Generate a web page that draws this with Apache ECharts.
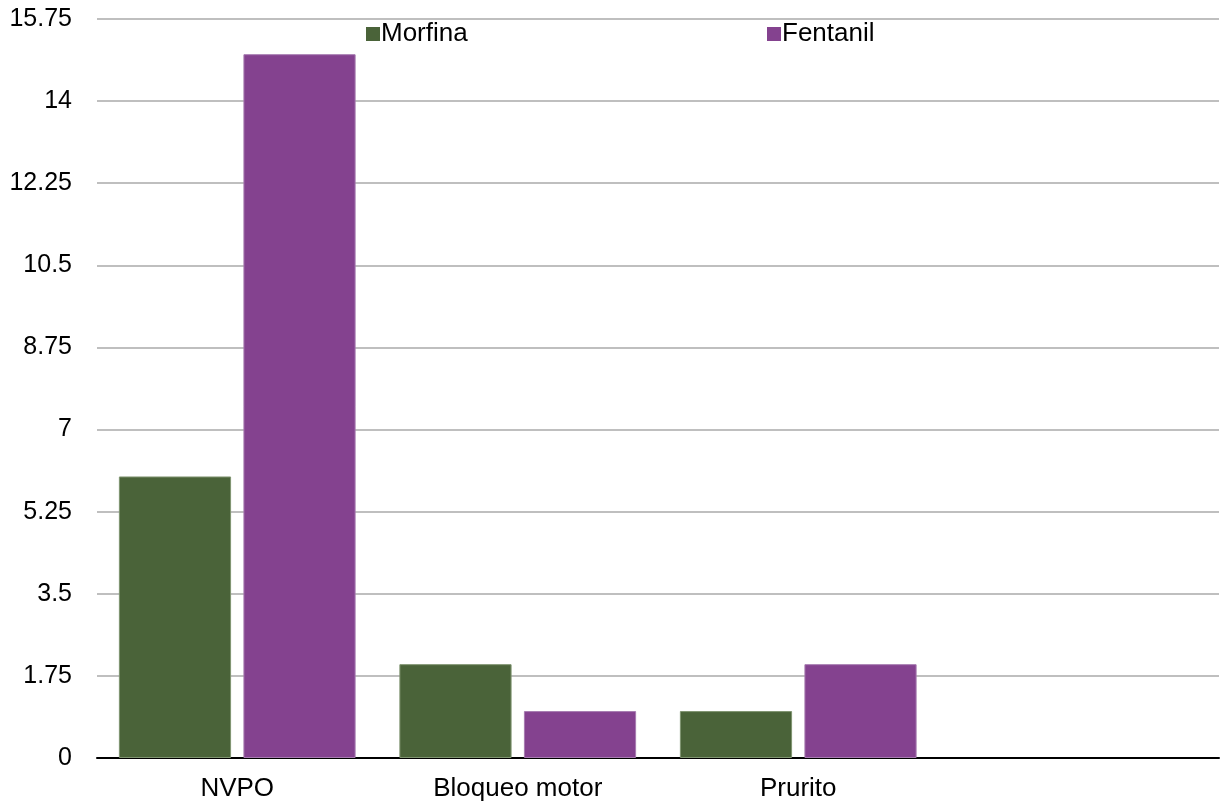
<!DOCTYPE html>
<html>
<head>
<meta charset="utf-8">
<script src="https://cdn.jsdelivr.net/npm/echarts@6/dist/echarts.min.js"></script>
<style>
  html, body { margin: 0; padding: 0; background: #fff; }
  #chart { width: 1222px; height: 805px; }
</style>
</head>
<body>
<div id="chart"></div>
<script>
// --- data ---
const categories = ['NVPO', 'Bloqueo motor', 'Prurito', ''];
const morfina = [6, 2, 1, null];
const fentanil = [15, 1, 2, null];
const yTicks = [0, 1.75, 3.5, 5.25, 7, 8.75, 10.5, 12.25, 14, 15.75];

const GREEN = '#4a6339';
const PURPLE = '#84428f';
const FONT = 'Liberation Sans, Arial, sans-serif';

const chart = echarts.init(document.getElementById('chart'));

// two legends so the items can sit at their own x positions
const legendBase = {
  top: 16,
  icon: 'rect',
  itemWidth: 14,
  itemHeight: 14,
  itemGap: 6,
  itemStyle: { borderWidth: 0 },
  textStyle: { color: '#000', fontSize: 26, fontFamily: FONT, padding: [0, 0, 0, -4] }
};

chart.setOption({
  backgroundColor: '#fff',
  animation: false,
  legend: [
    Object.assign({}, legendBase, { left: 361, data: ['Morfina'] }),
    Object.assign({}, legendBase, { left: 762, data: ['Fentanil'] })
  ],
  grid: { left: 97, right: 3, top: 19, bottom: 47, containLabel: false },
  xAxis: {
    type: 'category',
    data: categories,
    axisLine: { lineStyle: { color: '#000', width: 2 } },
    axisTick: { show: false },
    axisLabel: { color: '#000', fontSize: 26, fontFamily: FONT, margin: 18 }
  },
  yAxis: {
    type: 'value',
    min: yTicks[0],
    max: yTicks[yTicks.length - 1],
    interval: 1.75,
    axisLine: { show: false },
    axisTick: { show: false },
    axisLabel: { color: '#000', fontSize: 25, fontFamily: FONT, margin: 25 },
    splitLine: { lineStyle: { color: '#bfbfbf', width: 2 } }
  },
  series: [
    {
      name: 'Morfina',
      type: 'bar',
      data: morfina,
      barWidth: '40%',
      barGap: '11%',
      itemStyle: { color: GREEN, borderColor: '#7f9470', borderWidth: 1 }
    },
    {
      name: 'Fentanil',
      type: 'bar',
      data: fentanil,
      barWidth: '40%',
      barGap: '11%',
      itemStyle: { color: PURPLE, borderColor: '#a77bb0', borderWidth: 1 }
    }
  ]
});
</script>
</body>
</html>
